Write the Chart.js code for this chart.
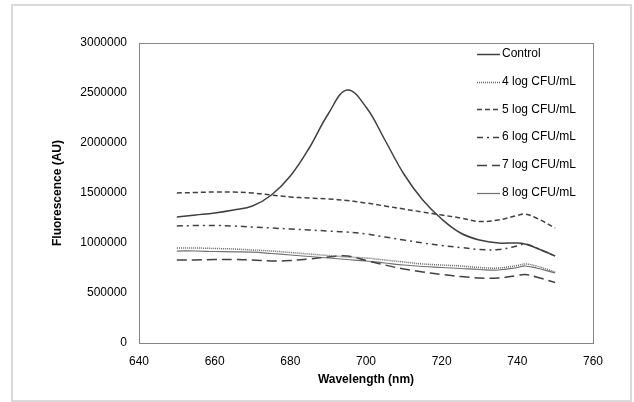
<!DOCTYPE html>
<html>
<head>
<meta charset="utf-8">
<script src="https://cdn.jsdelivr.net/npm/chart.js@4/dist/chart.umd.min.js"></script>
<style>
  html, body { margin: 0; padding: 0; background: #fff; }
  #wrap { position: relative; width: 634px; height: 402px; }
  #frame { position: absolute; left: 11px; top: 4px; width: 617px; height: 394px; border: 2px solid #d9d9d9; pointer-events: none; }
  canvas { position: absolute; left: 0; top: 0; }
</style>
</head>
<body>
<div id="wrap">
  <canvas id="c" width="634" height="402"></canvas>
  <div id="frame"></div>
</div>
<script>
const wavelengths = [650,655,660,665,670,675,680,685,690,695,700,705,710,715,720,725,730,735,740,742,745,750];
const seriesLabels = ['Control','4 log CFU/mL','5 log CFU/mL','6 log CFU/mL','7 log CFU/mL','8 log CFU/mL'];
const control = [1260000,1280000,1300000,1330000,1370000,1480000,1670000,1950000,2290000,2530000,2360000,2030000,1690000,1430000,1240000,1100000,1030000,1000000,1000000,990000,950000,870000];
const log4 = [950000,950000,945000,940000,930000,920000,905000,890000,875000,860000,850000,830000,810000,790000,780000,770000,755000,750000,775000,790000,770000,710000];
const log5 = [1500000,1505000,1510000,1510000,1500000,1480000,1460000,1450000,1440000,1425000,1400000,1370000,1340000,1310000,1280000,1250000,1215000,1230000,1275000,1290000,1250000,1150000];
const log6 = [1170000,1175000,1175000,1170000,1160000,1150000,1140000,1130000,1120000,1110000,1090000,1060000,1030000,1000000,975000,955000,935000,935000,970000,990000,950000,870000];
const log7 = [830000,830000,835000,835000,830000,820000,825000,840000,860000,870000,825000,780000,740000,710000,685000,665000,650000,650000,675000,685000,660000,605000];
const log8 = [920000,920000,915000,912000,908000,895000,880000,865000,850000,835000,820000,800000,780000,765000,755000,745000,735000,730000,755000,770000,750000,700000];
const xTicks = [640,660,680,700,720,740,760];
const yTicks = [0,500000,1000000,1500000,2000000,2500000,3000000];

const allSeries = [control, log4, log5, log6, log7, log8];
const styles = [
  {color:'#404040', width:1.5, dash:[]},
  {color:'#666666', width:1.5, dash:[1,1]},
  {color:'#404040', width:1.5, dash:[5,3]},
  {color:'#404040', width:1.5, dash:[6,4,2,4]},
  {color:'#404040', width:1.5, dash:[10,5]},
  {color:'#707070', width:1.25, dash:[]}
];

const datasets = allSeries.map((vals, i) => ({
  label: seriesLabels[i],
  data: wavelengths.map((w, j) => ({x: w, y: vals[j]})),
  borderColor: styles[i].color,
  backgroundColor: styles[i].color,
  borderWidth: styles[i].width,
  borderDash: styles[i].dash,
  pointRadius: 0,
  fill: false,
  tension: 0.4
}));

const FONT = 'Liberation Sans, Arial, sans-serif';

const framePlugin = {
  id: 'framePlugin',
  afterDatasetsDraw(chart) {
    const {ctx, chartArea: a} = chart;
    ctx.save();
    ctx.strokeStyle = '#868686';
    ctx.lineWidth = 1;
    ctx.setLineDash([]);
    ctx.strokeRect(Math.round(a.left) + 0.5, Math.round(a.top) + 0.5, Math.round(a.right - a.left), Math.round(a.bottom - a.top));
    ctx.restore();
  }
};

const legendPlugin = {
  id: 'insetLegend',
  afterDraw(chart) {
    const ctx = chart.ctx;
    ctx.save();
    ctx.font = '12px ' + FONT;
    ctx.textBaseline = 'middle';
    ctx.textAlign = 'left';
    chart.data.datasets.forEach((ds, i) => {
      const y = 54 + i * 27.7;
      ctx.strokeStyle = ds.borderColor;
      ctx.lineWidth = ds.borderWidth;
      ctx.setLineDash(ds.borderDash);
      ctx.beginPath();
      ctx.moveTo(477, Math.round(y) + 0.5);
      ctx.lineTo(500, Math.round(y) + 0.5);
      ctx.stroke();
      ctx.setLineDash([]);
      ctx.fillStyle = '#000';
      ctx.fillText(ds.label, 502, y);
    });
    ctx.restore();
  }
};

new Chart(document.getElementById('c'), {
  type: 'line',
  data: { datasets },
  options: {
    responsive: false,
    animation: false,
    devicePixelRatio: 1,
    layout: { padding: { left: 0, right: 41, top: 43, bottom: 0 } },
    plugins: { legend: { display: false }, tooltip: { enabled: false } },
    scales: {
      x: {
        type: 'linear',
        min: 640, max: 760,
        afterBuildTicks: s => { s.ticks = xTicks.map(v => ({value: v})); },
        afterFit: s => { s.height = 59; },
        grid: { display: false, drawTicks: false },
        border: { display: false },
        ticks: { font: { family: FONT, size: 12 }, color: '#000', padding: 11, maxRotation: 0 },
        title: { display: true, text: 'Wavelength (nm)', font: { family: FONT, size: 12, weight: 'bold' }, color: '#000', padding: { top: 15, bottom: 15 } }
      },
      y: {
        type: 'linear',
        min: 0, max: 3000000,
        afterBuildTicks: s => { s.ticks = yTicks.map(v => ({value: v})); },
        afterFit: s => { s.width = 139; },
        grid: { display: false, drawTicks: false },
        border: { display: false },
        ticks: { font: { family: FONT, size: 12 }, color: '#000', padding: 12, callback: v => String(v) },
        title: { display: true, text: 'Fluorescence (AU)', font: { family: FONT, size: 12, weight: 'bold' }, color: '#000', padding: { top: 50, bottom: 50 } }
      }
    }
  },
  plugins: [framePlugin, legendPlugin]
});
</script>
</body>
</html>
